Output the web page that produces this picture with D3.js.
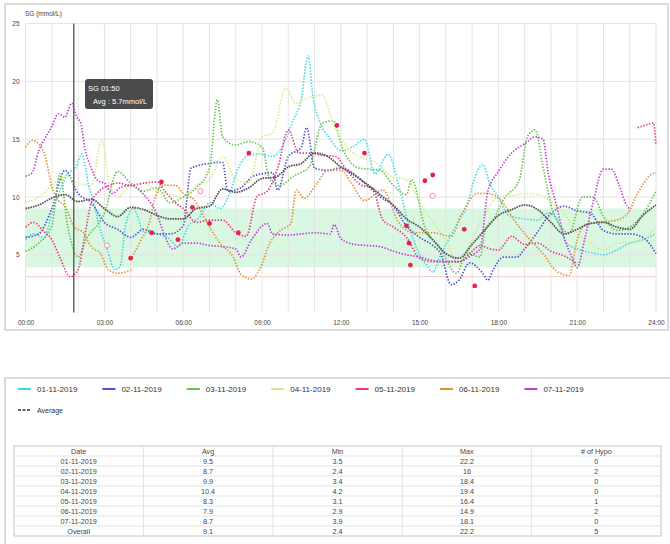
<!DOCTYPE html>
<html>
<head>
<meta charset="utf-8">
<script src="https://cdn.jsdelivr.net/npm/d3@7/dist/d3.min.js"></script>
<style>
  body { margin: 0; background: #fff; }
  svg { font-family: "Liberation Sans", Arial, sans-serif; }
</style>
</head>
<body>
<div id="chart"></div>
<script>
// Datos: [hora, valor]; null = hueco en el sensor
var day01 = [[0,6.3],[0.3,6.8],[0.7,6.5],[1,8.5],[1.3,10.5],[1.6,12],[1.9,12.5],[2.15,13.7],[2.4,11],[2.6,9.5],[2.8,7.5],[3.1,5.5],[3.4,3.7],[3.6,4.0],[3.8,7.5],[4.1,9.0],[4.5,7.0],[5,6.8],[5.4,6.5],[5.8,5.7],[6.2,7.5],[6.6,8.2],[7,9.5],[7.4,9.0],[7.8,10.5],[8.1,12.5],[8.5,13.6],[8.9,13.7],[9.4,13.5],[9.8,14.5],[10.2,16.7],[10.5,18.5],[10.75,22.2],[10.95,18.5],[11.2,16.5],[11.6,15],[12,14],[12.5,14.4],[12.9,15],[13.3,12],[13.8,13.7],[14.2,11],[14.6,7.5],[15,5.0],[15.3,4.0],[15.5,3.5],[15.8,5],[16.1,6.3],[16.5,8],[16.8,9.2],[17.05,11.3],[17.4,12.8],[17.7,11],[18,10],[18.4,8.4],[19,8.1],[19.5,8.0],[19.9,8.6],[20.2,8.2],[20.6,6],[21,5.5],[21.5,5.2],[22,5.0],[22.5,5.4],[23,6.0],[23.5,6.3],[24,6.8]];
var day02 = [[0,6.5],[0.5,6.8],[1,9],[1.5,12.3],[2,10.3],[2.5,9.5],[3,7.8],[3.5,7.2],[4,6.5],[4.5,7.2],[5,6.8],[5.5,6.8],[6,7.5],[6.3,12.5],[7,12.9],[7.5,13.0],[7.7,10.5],[8.2,10.8],[8.6,11.7],[9,12],[9.4,12.1],[9.6,10.6],[10,13.5],[10.5,14.3],[10.7,16],[11,12.5],[11.5,12.3],[12,12.5],[12.5,12],[13,11],[13.5,10],[14,9.2],[14.5,7.5],[15,6.5],[15.5,5.8],[15.8,5.1],[16.2,2.4],[16.5,2.8],[16.9,4.3],[17.4,3.4],[17.6,2.8],[17.8,3.7],[18.2,4.8],[18.7,4.8],[19,5.5],[19.5,7.0],[19.9,8.3],[20.5,9.2],[21,8.8],[21.5,8.6],[22,7.1],[22.5,6.8],[23,6.8],[23.5,6.5],[24,5.1]];
var day03 = [[0,5.3],[0.5,6.0],[1,7.5],[1.3,12.0],[1.6,7.5],[2,4.8],[2.3,6.3],[3,8.6],[3.5,12.2],[4,11.2],[4.5,10.5],[5,10.8],[5.5,9.5],[6,10],[6.5,10.8],[7,12.5],[7.3,18.4],[7.5,15.2],[8,14.5],[8.5,14.8],[9,14.3],[9.3,11.5],[9.7,11.0],[10.2,11.8],[10.8,12.6],[11.3,16.4],[11.7,16.6],[12.1,14],[12.7,12.5],[13.5,12.3],[14,11],[14.5,10.2],[14.7,11.5],[15.2,7.4],[15.8,5.5],[16.4,3.4],[16.8,5.1],[17.3,4.8],[17.5,7.1],[17.8,8.0],[18.2,9.8],[18.8,11.5],[19.1,15.2],[19.4,15.8],[19.7,12.6],[20.1,8.6],[20.7,6.9],[21.2,10],[21.6,10],[22,8.3],[22.5,7.1],[23,7.4],[23.5,8.5],[24,10.5]];
var day04 = [[0,9.5],[0.5,10],[1,11],[1.5,11.8],[2,11.2],[2.5,11],[2.9,15],[3.2,11],[3.5,10],[4,11],[4.5,11.2],[5,10.5],[5.5,10.2],[6,10],[6.5,11],[7,11.5],[7.5,13.5],[8,11.5],[8.5,11.2],[9,15.2],[9.4,15.5],[9.9,19.4],[10.3,18.1],[10.8,18.6],[11.3,18.8],[11.7,16.4],[12.2,14.4],[12.7,13.5],[13.3,13],[14,11.7],[14.5,11.5],[15,9.5],[15.5,7.8],[16,6.3],[16.5,4.2],[17,6.3],[17.5,8.6],[18,10],[18.5,10.1],[19,10.3],[19.5,10.2],[20,9.6],[20.5,8.6],[21,6.9],[21.5,6],[22,5.4],[22.5,6],[23,6],[23.5,6.3],[24,7.4]];
var day05 = [[0,7.4],[0.3,7.8],[0.7,7],[1,6.3],[1.3,4.8],[1.7,3.1],[2,3.7],[2.25,6.6],[2.5,9.5],[2.8,10.5],[3.2,11],[3.5,11.2],[4,11],[4.5,11.2],[5,11.3],[5.3,10.5],[5.7,9.5],[6,9.0],[6.5,7.8],[7,8],[7.5,8],[8,6.9],[8.4,6.6],[8.8,10],[9.2,10.5],[9.6,12.5],[10,15.8],[10.4,13.8],[10.8,13.8],[11.3,13.6],[11.8,13.5],[12.2,12.4],[12.8,11],[13.2,10.8],[13.6,8],[14,7.4],[14.5,6.5],[15,4.7],[15.5,4.4],[16,4.4],[16.5,4.4],[17,5.3],[17.3,5.8],[17.7,5.5],[18,5.4],[18.5,6.6],[19,5.9],[19.5,6.0],[20,5.3],[20.5,4.9],[21,4.2],null,[23.3,16.0],[23.6,16.2],[23.9,16.4],[24,14.5]];
var day06 = [[0,14.3],[0.25,14.9],[0.5,14.6],[0.75,13.5],[1,10.9],[1.25,9.7],[1.5,9.2],[1.85,7.4],[2.2,6.9],[2.5,5.7],[2.85,5.1],[3.15,3.7],[3.5,3.4],[4.05,3.7],null,[4.05,4.8],[4.4,6.3],[4.7,7.7],[4.9,9.7],[5.2,11],[5.7,11],[6,10.3],[6.4,9.8],[6.9,7.8],[7.4,6.0],[7.9,4.8],[8.2,3.3],[8.6,2.9],[8.9,3.7],[9.3,6.0],[9.7,7.1],[10.1,7.7],[10.3,10.6],[10.6,9.9],[11.1,11.2],[11.5,12.3],[12,12.3],[12.4,11.2],[12.9,9.7],[13.6,10.6],[14.2,7.8],[14.8,6.9],[15.5,6.9],[16.2,6.6],[16.6,8.5],[17.2,10.3],[17.6,10.3],[18.2,9.4],[18.6,8.0],[19.2,6.3],[19.7,5.1],[20.2,3.6],[20.7,3.2],[21,6.3],[21.3,7.6],[21.8,7.8],[22.5,8.0],[22.9,8.5],[23.3,10.3],[23.8,11.9],[24,12.1]];
var day07 = [[0,11.8],[0.25,12.1],[0.5,14],[0.7,14.9],[1,16.1],[1.25,17.2],[1.5,16.9],[1.75,18.1],[1.95,16.9],[2.1,16.4],[2.25,14.3],[2.5,12.5],[2.75,11.4],[3,11.2],[3.3,10.3],[3.6,10.8],[4,11],[4.5,10.2],[5,8.5],[5.3,6.6],[5.6,5.5],[6,6],[6.5,6],[7,5.8],[7.5,5.7],[8,5.5],[8.2,4.8],[8.6,6.3],[9.2,7.7],[9.4,6.8],[10,6.7],[10.5,6.8],[11,6.9],[11.6,6.8],[11.75,7.6],[12,6.4],[12.5,5.9],[13,5.8],[13.5,5.7],[14,5.3],[14.5,5.0],[15,4.8],[15.5,4.5],[16,4.4],[16.5,4.4],[17,5.0],[17.3,5.5],[17.6,10.5],[18,12.2],[18.5,13.8],[19,14.6],[19.4,15.2],[19.7,15.0],[19.9,12],[20.2,9.4],[20.5,6.5],[20.8,4.8],[21,3.9],[21.3,6.5],[21.6,9.5],[22,12.4],[22.3,12.4],[22.6,11],[22.9,9.2],[23,9.0]];
var average = [[0,9.0],[0.5,9.3],[1,9.9],[1.5,10.2],[2,9.6],[2.5,9.8],[3,9.0],[3.5,8.3],[4,9.1],[4.5,8.9],[5,8.4],[5.5,8.1],[6,8.1],[6.5,9.0],[7,9.2],[7.5,10.7],[8,10.4],[8.5,10.8],[9,11.6],[9.5,11.7],[10,12.6],[10.5,12.9],[11,13.8],[11.5,13.5],[12,12.6],[12.5,11.9],[13,11.1],[13.5,10.2],[14,9.3],[14.5,8.1],[15,7.4],[15.5,6.3],[16,5.1],[16.5,4.7],[17,5.9],[17.5,7.2],[18,8.4],[18.5,8.9],[19,9.3],[19.5,8.9],[20,7.8],[20.5,6.8],[21,7.2],[21.5,7.7],[22,7.8],[22.5,7.4],[23,7.2],[23.5,8.4],[24,9.3]];

var bgReadings = [[4.0,4.7],[4.8,6.9],[5.17,11.3],[5.8,6.3],[6.35,9.1],[7.0,7.7],[8.1,6.9],[8.5,13.8],[11.85,16.2],[12.9,13.8],[14.5,7.5],[14.6,6.0],[14.65,4.1],[15.2,11.4],[15.5,11.9],[16.7,7.2],[17.1,2.3]];
var hollowMarks = [[3.1,5.8],[6.65,10.5],[15.5,10.1]];

var seriesNames = ['01-11-2019','02-11-2019','03-11-2019','04-11-2019','05-11-2019','06-11-2019','07-11-2019'];
var seriesData = [day01, day02, day03, day04, day05, day06, day07];
var seriesColors = ['#3fd8e3','#4b4fd0','#66c04a','#d6ea8c','#e8388a','#e0913a','#c23cd6'];

var xTicks = [0,3,6,9,12,15,18,21,24];
var yTicks = [5,10,15,20,25];

var tableHeader = ['Date','Avg','Min','Max','# of Hypo'];
var tableDates = ['01-11-2019','02-11-2019','03-11-2019','04-11-2019','05-11-2019','06-11-2019','07-11-2019','Overall'];
var tableAvg = ['9.5','8.7','9.9','10.4','8.3','7.9','8.7','9.1'];
var tableMin = ['3.5','2.4','3.4','4.2','3.1','2.9','3.9','2.4'];
var tableMax = ['22.2','16','18.4','19.4','16.4','14.9','18.1','22.2'];
var tableHypo = ['0','2','0','0','1','2','0','5'];

var targetLow = 3.9, targetHigh = 9.0, hypoLine = 3.1;

// SVG
var svg = d3.select('#chart').append('svg')
  .attr('width', 670)
  .attr('height', 544);

// Marcos
svg.append('rect')
  .attr('x', 5).attr('y', 4).attr('width', 663).attr('height', 326)
  .style('fill', 'none').style('stroke', '#cfcfcf').style('stroke-width', 1.5);

svg.append('rect')
  .attr('x', 5).attr('y', 378).attr('width', 680).attr('height', 180)
  .style('fill', 'none').style('stroke', '#cfcfcf').style('stroke-width', 1.5);

// Escalas
var x = d3.scaleLinear().domain([0, 24]).range([25.6, 656]);
var y = d3.scaleLinear().domain([0, 25]).range([312.5, 23.6]);

var plot = svg.append('g');

// Banda objetivo
plot.append('rect')
  .attr('x', x(0)).attr('width', x(24) - x(0))
  .attr('y', y(targetHigh)).attr('height', y(targetLow) - y(targetHigh))
  .style('fill', '#d9f7e1');

// Rejilla
plot.selectAll('.vgrid')
  .data(d3.range(0, 25))
  .enter().append('line')
  .attr('x1', function(d) { return x(d); })
  .attr('x2', function(d) { return x(d); })
  .attr('y1', y(25)).attr('y2', y(0))
  .style('stroke', '#e4e4e4').style('stroke-width', 1);

plot.selectAll('.hgrid')
  .data(yTicks)
  .enter().append('line')
  .attr('x1', x(0)).attr('x2', x(24))
  .attr('y1', function(d) { return y(d); })
  .attr('y2', function(d) { return y(d); })
  .style('stroke', '#e4e4e4').style('stroke-width', 1);

plot.append('line')
  .attr('x1', x(0)).attr('x2', x(24))
  .attr('y1', y(hypoLine)).attr('y2', y(hypoLine))
  .style('stroke', '#f6cccc').style('stroke-width', 1);

// Ejes
var yAxis = d3.axisLeft(y).tickValues(yTicks).tickSize(0).tickPadding(4);
var gy = svg.append('g').attr('transform', 'translate(' + x(0) + ',0)').call(yAxis);
gy.select('.domain').remove();
gy.selectAll('text').style('font-size', '6.5px').style('fill', '#444').attr('dx', -2);

var xAxis = d3.axisBottom(x).tickValues(xTicks).tickSize(0).tickPadding(8)
  .tickFormat(function(d) { return (d < 10 ? '0' : '') + d + ':00'; });
var gx = svg.append('g').attr('transform', 'translate(0,' + y(0) + ')').call(xAxis);
gx.select('.domain').remove();
gx.selectAll('text').style('font-size', '6.5px').style('fill', '#444');

svg.append('text')
  .attr('x', 25).attr('y', 16)
  .style('font-size', '6.5px').style('fill', '#444')
  .text('SG (mmol/L)');

// Series
var line = d3.line()
  .defined(function(d) { return d !== null; })
  .x(function(d) { return x(d[0]); })
  .y(function(d) { return y(d[1]); })
  .curve(d3.curveMonotoneX);

var dataSeries = plot.append('g').classed('data-series', true);

dataSeries.selectAll('.serie')
  .data(seriesData)
  .enter().append('path')
  .classed('serie', true)
  .attr('d', function(d) { return line(d); })
  .style('fill', 'none')
  .style('stroke', function(d, i) { return seriesColors[i]; })
  .style('stroke-width', 1.7)
  .style('stroke-dasharray', '1.4,1.6');

dataSeries.append('path')
  .attr('d', line(average))
  .style('fill', 'none')
  .style('stroke', '#555')
  .style('stroke-width', 1.8)
  .style('stroke-dasharray', '1.6,0.9');

// Lecturas de glucemia
dataSeries.selectAll('.bg')
  .data(bgReadings)
  .enter().append('circle')
  .attr('cx', function(d) { return x(d[0]); })
  .attr('cy', function(d) { return y(d[1]); })
  .attr('r', 2.4)
  .style('fill', '#e8204a');

dataSeries.selectAll('.hollow')
  .data(hollowMarks)
  .enter().append('circle')
  .attr('cx', function(d) { return x(d[0]); })
  .attr('cy', function(d) { return y(d[1]); })
  .attr('r', 2.6)
  .style('fill', '#fff')
  .style('stroke', '#f08aa0')
  .style('stroke-width', 1);

// Cursor y tooltip
var cursorT = 1 + 50 / 60;
svg.append('line')
  .attr('x1', x(cursorT)).attr('x2', x(cursorT))
  .attr('y1', y(25)).attr('y2', y(0))
  .style('stroke', '#666').style('stroke-width', 1.5);

var tip = svg.append('g').attr('transform', 'translate(85,79)');
tip.append('rect')
  .attr('width', 68).attr('height', 30).attr('rx', 3)
  .style('fill', '#4a4a4a');
tip.append('text').attr('x', 3).attr('y', 12)
  .style('font-size', '7.5px').style('fill', '#fff').text('SG 01:50');
tip.append('text').attr('x', 8).attr('y', 25)
  .style('font-size', '7.5px').style('fill', '#fff').text('Avg : 5.7mmol/L');

// Leyenda
var legend = svg.append('g');
var items = legend.selectAll('.item')
  .data(seriesNames)
  .enter().append('g')
  .attr('transform', function(d, i) { return 'translate(' + (18 + i * 84.4) + ',389)'; });
items.append('line')
  .attr('x1', 0).attr('x2', 13).attr('y1', 0).attr('y2', 0)
  .style('stroke', function(d, i) { return seriesColors[i]; })
  .style('stroke-width', 2);
items.append('text')
  .attr('x', 19).attr('y', 3)
  .style('font-size', '8px').style('fill', '#333')
  .text(function(d) { return d; });

legend.append('line')
  .attr('x1', 18).attr('x2', 31).attr('y1', 410).attr('y2', 410)
  .style('stroke', '#333').style('stroke-width', 1.3)
  .style('stroke-dasharray', '3,1.5');
legend.append('text')
  .attr('x', 37).attr('y', 413)
  .style('font-size', '7px').style('fill', '#333')
  .text('Average');

// Tabla
var tLeft = 14, tRight = 661, tTop = 446, rowH = 10;
var colW = (tRight - tLeft) / tableHeader.length;
var rows = [tableHeader].concat(tableDates.map(function(d, i) {
  return [d, tableAvg[i], tableMin[i], tableMax[i], tableHypo[i]];
}));
var table = svg.append('g');

table.append('rect')
  .attr('x', tLeft).attr('y', tTop)
  .attr('width', tRight - tLeft).attr('height', rows.length * rowH)
  .style('fill', 'none').style('stroke', '#cfcfcf').style('stroke-width', 1.2);

table.selectAll('.hline')
  .data(d3.range(1, rows.length))
  .enter().append('line')
  .attr('x1', tLeft).attr('x2', tRight)
  .attr('y1', function(d) { return tTop + d * rowH; })
  .attr('y2', function(d) { return tTop + d * rowH; })
  .style('stroke', '#dcdcdc').style('stroke-width', 0.8);

table.selectAll('.vline')
  .data(d3.range(1, tableHeader.length))
  .enter().append('line')
  .attr('x1', function(d) { return tLeft + d * colW; })
  .attr('x2', function(d) { return tLeft + d * colW; })
  .attr('y1', tTop).attr('y2', tTop + rows.length * rowH)
  .style('stroke', '#dcdcdc').style('stroke-width', 0.8);

rows.forEach(function(r, ri) {
  table.selectAll('.cell-' + ri)
    .data(r)
    .enter().append('text')
    .attr('x', function(d, ci) { return tLeft + colW * (ci + 0.5); })
    .attr('y', tTop + ri * rowH + 7.8)
    .style('text-anchor', 'middle')
    .style('font-size', '7.2px').style('fill', '#444')
    .text(function(d) { return d; });
});
</script>
</body>
</html>
